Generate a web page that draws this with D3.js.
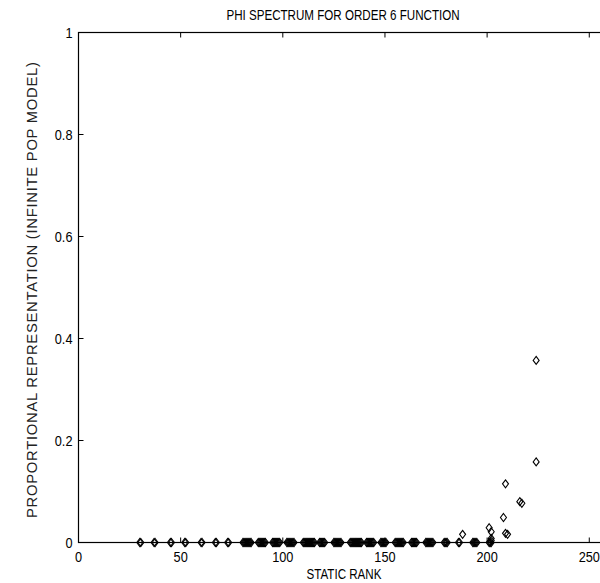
<!DOCTYPE html>
<html><head><meta charset="utf-8">
<script src="https://cdn.jsdelivr.net/npm/d3@7"></script>
<style>body{margin:0;background:#fff}svg{display:block}</style>
</head><body>
<svg id="c" width="600" height="583"></svg>
<script>
const title = "PHI SPECTRUM FOR ORDER 6 FUNCTION";
const xTitle = "STATIC RANK";
const yTitle = "PROPORTIONAL REPRESENTATION (INFINITE POP MODEL)";
const xTicks = [0, 50, 100, 150, 200, 250];
const yTicks = [0, 0.2, 0.4, 0.6, 0.8, 1];
const yTickLabels = ["0", "0.2", "0.4", "0.6", "0.8", "1"];
// near-zero points (ranks along the baseline, many tied/near ranks)
const zeroRanks = [30,30.5,37,37.5,45,45.5,52,52.5,60,60.5,67,67.5,73,73.5,
  80.5,81,81.5,82,82.5,83,83.5,84,84.5,
  88,88.5,89,89.5,90,90.5,91,91.5,
  95,95.5,96,96.5,97,97.5,98,98.5,
  102,102.5,103,103.5,104,104.5,105,105.5,
  110,110.5,111,111.5,112,112.5,113,113.5,114,114.5,115,115.5,
  118,118.5,119,119.5,120,120.5,
  125,125.5,126,126.5,127,127.5,128,128.5,
  133,133.5,134,134.5,135,135.5,136,136.5,137,137.5,138,138.5,
  141,141.5,142,142.5,143,143.5,144,144.5,
  148,148.5,149,149.5,150,150.5,
  155,155.5,156,156.5,157,157.5,158,158.5,159,
  163,163.5,164,164.5,165,165.5,
  170,170.5,171,171.5,172,172.5,173,173.5,
  179,179.5,180,180.5,186,186.5,
  193,193.5,194,194.5,195,201,201.5,202];
// raised points
const ranks = [188,201,202,202,202,208,209,210,209,216,217,224,224];
const values = [0.016,0.029,0.021,0.008,0.004,0.049,0.018,0.016,0.115,0.080,0.077,0.158,0.357];

const svg = d3.select("#c");
const x = d3.scaleLinear().domain([0, 260]).range([78.5, 609.7]);
const y = d3.scaleLinear().domain([0, 1]).range([542.5, 32.5]);
const font = "'Liberation Sans', Arial, sans-serif";

// frame
svg.append("rect").attr("x", x(0)).attr("y", y(1)).attr("width", x(260) - x(0)).attr("height", y(0) - y(1))
  .attr("fill", "none").attr("stroke", "#000").attr("stroke-width", 1.2);

// ticks
const tl = 5;
xTicks.forEach(t => {
  svg.append("line").attr("x1", x(t)).attr("x2", x(t)).attr("y1", y(0)).attr("y2", y(0) - tl).attr("stroke", "#000");
  svg.append("line").attr("x1", x(t)).attr("x2", x(t)).attr("y1", y(1)).attr("y2", y(1) + tl).attr("stroke", "#000");
  svg.append("text").attr("transform", `translate(${x(t)},${y(0) + 19}) scale(0.85,1)`)
    .attr("text-anchor", "middle").attr("font-family", font).attr("font-size", 15).text(t);
});
yTicks.forEach((t, i) => {
  svg.append("line").attr("x1", x(0)).attr("x2", x(0) + tl).attr("y1", y(t)).attr("y2", y(t)).attr("stroke", "#000");
  svg.append("text").attr("transform", `translate(${x(0) - 6},${y(t) + 5}) scale(0.85,1)`)
    .attr("text-anchor", "end").attr("font-family", font).attr("font-size", 15).text(yTickLabels[i]);
});

// titles
svg.append("text").attr("transform", `translate(343,20) scale(0.8,1)`).attr("text-anchor", "middle")
  .attr("font-family", font).attr("font-size", 14.5).text(title);
svg.append("text").attr("transform", `translate(344,579) scale(0.8,1)`).attr("text-anchor", "middle")
  .attr("font-family", font).attr("font-size", 14.5).text(xTitle);
svg.append("text").attr("transform", `translate(37,290) rotate(-90)`).attr("text-anchor", "middle")
  .attr("font-family", font).attr("font-size", 14.8).attr("fill", "#222")
  .attr("textLength", 456).attr("lengthAdjust", "spacing").text(yTitle);

// points
const diamond = "M0,-4L3,0L0,4L-3,0Z";
const pts = zeroRanks.map(r => [r, 0]).concat(ranks.map((r, i) => [r, values[i]]));
svg.append("g").selectAll("path").data(pts).join("path")
  .attr("transform", d => `translate(${x(d[0])},${y(d[1])})`)
  .attr("d", diamond).attr("fill", "none").attr("stroke", "#000").attr("stroke-width", 1.1);
</script>
</body></html>
